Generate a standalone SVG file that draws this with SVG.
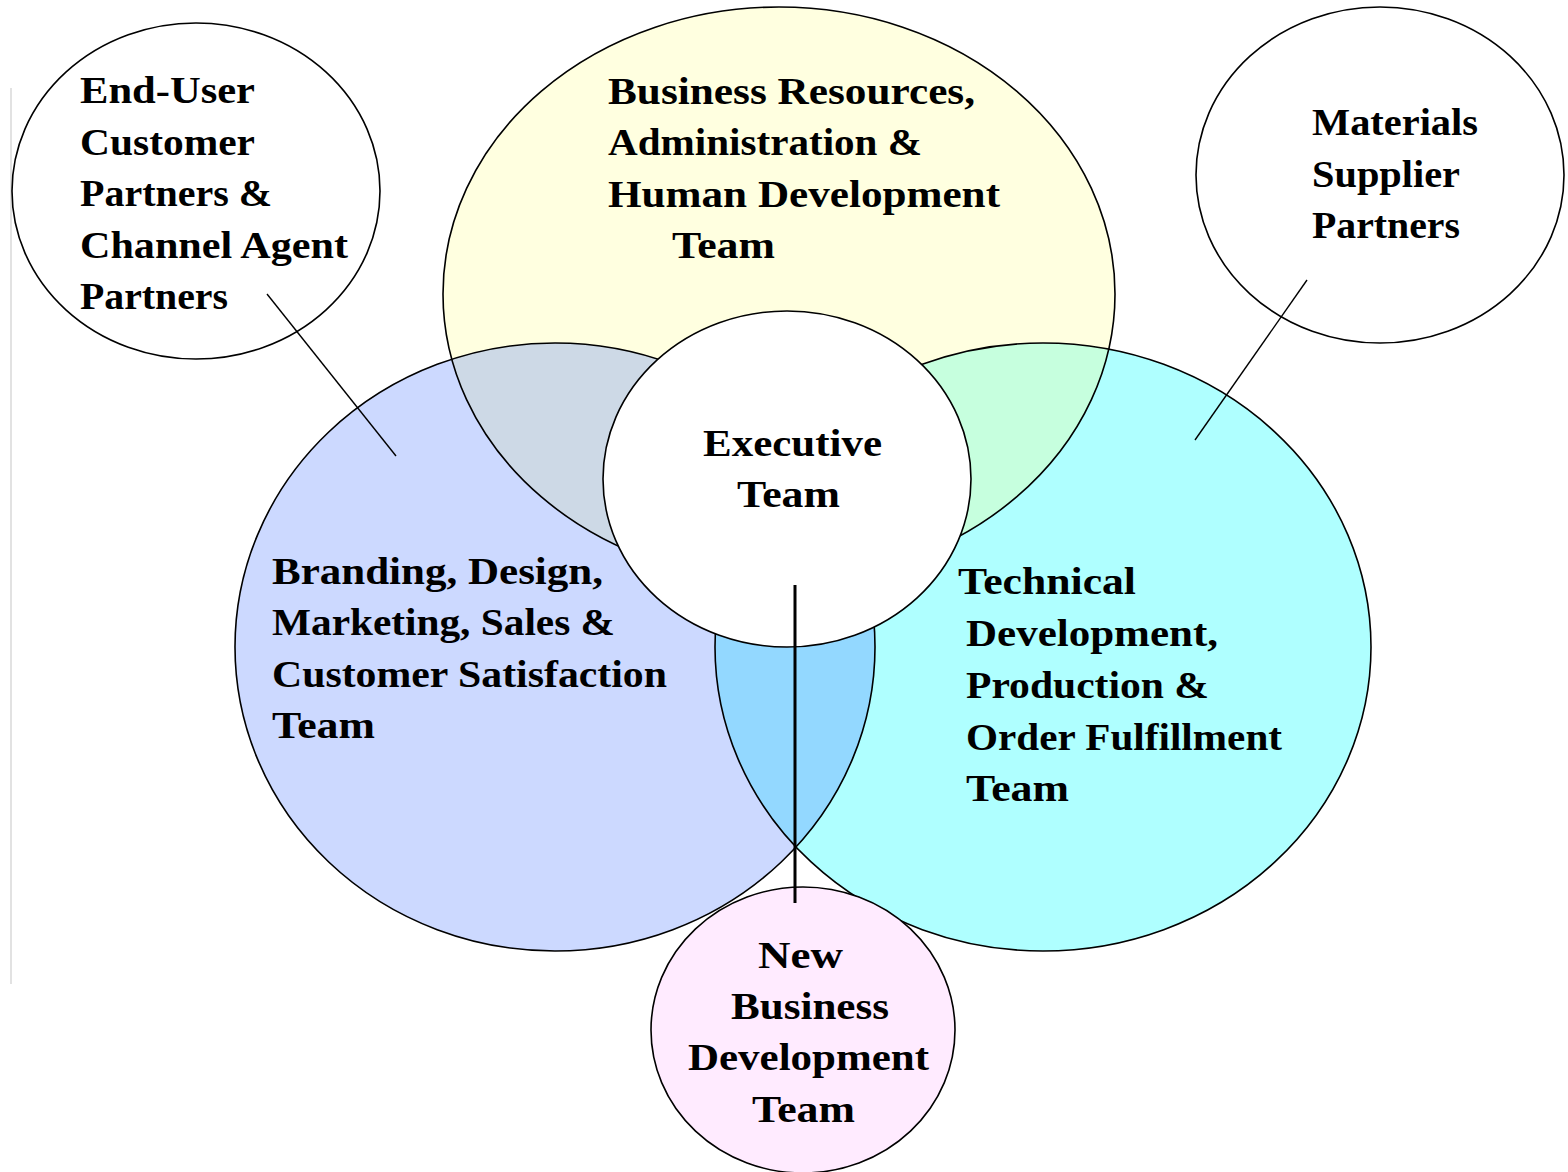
<svg xmlns="http://www.w3.org/2000/svg" width="1568" height="1172" viewBox="0 0 1568 1172">
<style>
.lbl{font-family:"Liberation Serif","Times New Roman",serif;font-weight:bold;font-size:38px;fill:#000}
.ol{fill:none;stroke:#000;stroke-width:1.6}
.ln{stroke:#000;stroke-width:1.4;fill:none}
</style>
<defs>
<clipPath id="cYel"><ellipse cx="779" cy="294" rx="336" ry="287"/></clipPath>
<clipPath id="cBlu"><ellipse cx="555" cy="647" rx="320" ry="304"/></clipPath>
<clipPath id="cCya"><ellipse cx="1043" cy="647" rx="328" ry="304"/></clipPath>
</defs>
<rect width="1568" height="1172" fill="#fff"/>
<line x1="11" y1="88" x2="11" y2="984" stroke="#e2e2e2" stroke-width="2"/>

<g id="business-resources">
<ellipse cx="779" cy="294" rx="336" ry="287" fill="#FFFFE0"/>
</g>
<g id="branding">
<ellipse cx="555" cy="647" rx="320" ry="304" fill="#CCD9FF"/>
</g>
<g id="technical">
<ellipse cx="1043" cy="647" rx="328" ry="304" fill="#AFFFFF"/>
</g>
<g id="overlaps">
<g clip-path="url(#cYel)"><ellipse cx="555" cy="647" rx="320" ry="304" fill="#CDD9E6"/></g>
<g clip-path="url(#cYel)"><ellipse cx="1043" cy="647" rx="328" ry="304" fill="#C6FFDE"/></g>
<g clip-path="url(#cBlu)"><ellipse cx="1043" cy="647" rx="328" ry="304" fill="#93D8FF"/></g>
</g>
<g id="outlines">
<ellipse class="ol" cx="779" cy="294" rx="336" ry="287"/>
<ellipse class="ol" cx="555" cy="647" rx="320" ry="304"/>
<ellipse class="ol" cx="1043" cy="647" rx="328" ry="304"/>
</g>

<g id="end-user">
<ellipse cx="196" cy="191" rx="184" ry="168" fill="#fff" stroke="#000" stroke-width="1.6"/>
<text class="lbl" x="80" y="103" textLength="175" lengthAdjust="spacingAndGlyphs">End-User</text>
<text class="lbl" x="80" y="155" textLength="175" lengthAdjust="spacingAndGlyphs">Customer</text>
<text class="lbl" x="80" y="206" textLength="192" lengthAdjust="spacingAndGlyphs">Partners &amp;</text>
<text class="lbl" x="80" y="258" textLength="268" lengthAdjust="spacingAndGlyphs">Channel Agent</text>
<text class="lbl" x="80" y="309" textLength="148" lengthAdjust="spacingAndGlyphs">Partners</text>
</g>

<g id="materials">
<ellipse cx="1380" cy="175" rx="184" ry="168" fill="#fff" stroke="#000" stroke-width="1.6"/>
<text class="lbl" x="1312" y="135" textLength="166" lengthAdjust="spacingAndGlyphs">Materials</text>
<text class="lbl" x="1312" y="187" textLength="148" lengthAdjust="spacingAndGlyphs">Supplier</text>
<text class="lbl" x="1312" y="238" textLength="148" lengthAdjust="spacingAndGlyphs">Partners</text>
</g>

<g id="labels">
<text class="lbl" x="608" y="104" textLength="367" lengthAdjust="spacingAndGlyphs">Business Resources,</text>
<text class="lbl" x="608" y="155" textLength="314" lengthAdjust="spacingAndGlyphs">Administration &amp;</text>
<text class="lbl" x="608" y="207" textLength="392" lengthAdjust="spacingAndGlyphs">Human Development</text>
<text class="lbl" x="672" y="258" textLength="103" lengthAdjust="spacingAndGlyphs">Team</text>

<text class="lbl" x="272" y="584" textLength="331" lengthAdjust="spacingAndGlyphs">Branding, Design,</text>
<text class="lbl" x="272" y="635" textLength="343" lengthAdjust="spacingAndGlyphs">Marketing, Sales &amp;</text>
<text class="lbl" x="272" y="687" textLength="395" lengthAdjust="spacingAndGlyphs">Customer Satisfaction</text>
<text class="lbl" x="272" y="738" textLength="103" lengthAdjust="spacingAndGlyphs">Team</text>

<text class="lbl" x="958" y="594" textLength="178" lengthAdjust="spacingAndGlyphs">Technical</text>
<text class="lbl" x="966" y="646" textLength="252" lengthAdjust="spacingAndGlyphs">Development,</text>
<text class="lbl" x="966" y="698" textLength="243" lengthAdjust="spacingAndGlyphs">Production &amp;</text>
<text class="lbl" x="966" y="750" textLength="316" lengthAdjust="spacingAndGlyphs">Order Fulfillment</text>
<text class="lbl" x="966" y="801" textLength="103" lengthAdjust="spacingAndGlyphs">Team</text>
</g>

<g id="connectors">
<line class="ln" x1="267" y1="294" x2="396" y2="456"/>
<line class="ln" x1="1307" y1="280" x2="1195" y2="440"/>
</g>

<g id="executive">
<ellipse cx="787" cy="479" rx="184" ry="168" fill="#fff" stroke="#000" stroke-width="1.6"/>
<text class="lbl" x="703" y="456" textLength="179" lengthAdjust="spacingAndGlyphs">Executive</text>
<text class="lbl" x="737" y="507" textLength="103" lengthAdjust="spacingAndGlyphs">Team</text>
</g>

<g id="new-business">
<ellipse cx="803" cy="1030" rx="152" ry="143" fill="#FFEBFF" stroke="#000" stroke-width="1.6"/>
<text class="lbl" x="758" y="968" textLength="85" lengthAdjust="spacingAndGlyphs">New</text>
<text class="lbl" x="731" y="1019" textLength="158" lengthAdjust="spacingAndGlyphs">Business</text>
<text class="lbl" x="688" y="1070" textLength="241" lengthAdjust="spacingAndGlyphs">Development</text>
<text class="lbl" x="752" y="1122" textLength="103" lengthAdjust="spacingAndGlyphs">Team</text>
</g>

<g id="connector-vertical">
<line x1="795" y1="585" x2="795" y2="903" stroke="#000" stroke-width="3"/>
</g>
</svg>
